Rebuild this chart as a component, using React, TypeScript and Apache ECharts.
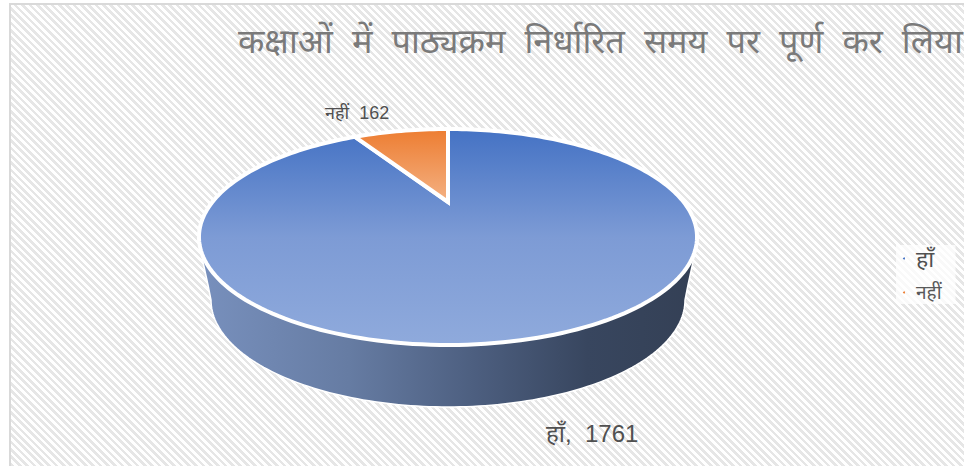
import React, { useEffect, useRef } from "react";
import * as echarts from "echarts";

const TITLE = "कक्षाओं  में  पाठ्यक्रम  निर्धारित  समय  पर  पूर्ण  कर  लिया";
const categories = ["हाँ", "नहीं"];
const values = [1761, 162];
const labelSeparators = [",  ", "  "];

const FONT = '"Liberation Sans", "Noto Sans", sans-serif';
const total = values.reduce((a, b) => a + b, 0);

// perspective projection of the unit disc onto the tilted pie top
const CX = 448;
const PX = 235.6;
const PC = -0.324;
const PA = 31.2;
const PB = 202;
const project = (x: number, y: number) => {
  const w = 1 + PC * y;
  return [CX + (PX * x) / w, (PA * y + PB) / w];
};
const rimPoint = (fraction: number) => {
  const t = fraction * Math.PI * 2;
  return project(Math.sin(t), -Math.cos(t));
};

const sliceStyles = [
  [
    { offset: 0, color: "#4472c4" },
    { offset: 0.5, color: "#7d9bd5" },
    { offset: 1, color: "#8faadc" },
  ],
  [
    { offset: 0, color: "#ed7d31" },
    { offset: 1, color: "#f4b183" },
  ],
];
const legendColors = ["#4472c4", "#ed7d31"];
const labelStyles = [
  { x: 546, y: 433, fontSize: 24 },
  { x: 325, y: 113, fontSize: 18 },
];

const wallPoints = () => {
  const pts: number[][] = [];
  pts.push([203, 262]);
  pts.push([208, 285]);
  for (let i = 0; i <= 120; i++) {
    const a = Math.PI - (i / 120) * Math.PI;
    pts.push([CX + 237 * Math.cos(a), 300 + 107 * Math.sin(a)]);
  }
  pts.push([688, 285]);
  pts.push([693, 262]);
  for (let i = 0; i <= 120; i++) {
    const a = (i / 120) * Math.PI;
    pts.push([CX + 249 * Math.cos(a), 237 + 108 * Math.sin(a)]);
  }
  return pts;
};

const makeRender = (index: number) => (_params: any, api: any) => {
  const value = api.value(0);
  const before = values.slice(0, index).reduce((a, b) => a + b, 0);
  const from = before / total;
  const to = (before + value) / total;
  const steps = Math.max(12, Math.round((to - from) * 240));
  const pts: number[][] = [project(0, 0)];
  for (let i = 0; i <= steps; i++) pts.push(rimPoint(from + ((to - from) * i) / steps));
  const children: any[] = [];
  if (index === 0) {
    children.push({
      type: "polygon",
      shape: { points: wallPoints() },
      style: {
        fill: new echarts.graphic.LinearGradient(0, 0, 1, 0, [
          { offset: 0, color: "#7890bd" },
          { offset: 0.3, color: "#667ca3" },
          { offset: 0.55, color: "#4d5f80" },
          { offset: 0.78, color: "#38465f" },
          { offset: 1, color: "#344055" },
        ]),
        stroke: "#ffffff",
        lineWidth: 1.5,
      },
    });
  }
  children.push({
    type: "polygon",
    shape: { points: pts },
    style: {
      fill: new echarts.graphic.LinearGradient(0, 0, 0, 1, sliceStyles[index]),
      stroke: "#ffffff",
      lineWidth: 4,
      lineJoin: "miter",
    },
  });
  const ls = labelStyles[index];
  children.push({
    type: "text",
    x: ls.x,
    y: ls.y,
    style: {
      text: `${categories[index]}${labelSeparators[index]}${value}`,
      fontFamily: FONT,
      fontSize: ls.fontSize,
      fill: "#505050",
      verticalAlign: "middle",
      align: "left",
    },
  });
  return { type: "group", children };
};

export default function App() {
  const ref = useRef<HTMLDivElement>(null);
  useEffect(() => {
    document.body.style.margin = "0";
    const chart = echarts.init(ref.current!, undefined, { renderer: "svg" });
    chart.setOption({
      animation: false,
      title: {
        text: TITLE,
        left: 238,
        top: 24,
        padding: 0,
        textStyle: { color: "#7a7a7a", fontSize: 34.3, fontWeight: 400, fontFamily: FONT },
      },
      legend: {
        orient: "vertical",
        left: 896,
        top: 245,
        padding: [2, 14, 2, 7],
        itemWidth: 2,
        itemHeight: 2,
        itemGap: 13,
        icon: "circle",
        selectedMode: false,
        backgroundColor: "rgba(255,255,255,0.75)",
        data: [
          { name: categories[0], textStyle: { fontSize: 23, color: "#505050", fontFamily: FONT, padding: [0, 0, 0, 6] } },
          { name: categories[1], textStyle: { fontSize: 19, color: "#595959", fontFamily: FONT, padding: [0, 0, 0, 6] } },
        ],
      },
      series: categories.map((name, i) => ({
        type: "custom",
        name,
        coordinateSystem: "none",
        silent: true,
        itemStyle: { color: legendColors[i] },
        data: [[values[i]]],
        renderItem: makeRender(i),
      })),
    });
    return () => chart.dispose();
  }, []);
  return (
    <div style={{ position: "fixed", left: 0, top: 0, width: 964, height: 466, background: "#fff", overflow: "hidden" }}>
      <div
        style={{
          position: "absolute",
          left: 9,
          top: 3,
          width: 955,
          height: 463,
          borderLeft: "2px solid #d9d9d9",
          borderTop: "2px solid #d9d9d9",
          boxSizing: "border-box",
          background: "repeating-linear-gradient(45deg, #e6e6e6 0px, #e6e6e6 2.6px, #ffffff 2.6px, #ffffff 5.2px)",
        }}
      />
      <div ref={ref} style={{ position: "absolute", left: 0, top: 0, width: 964, height: 466 }} />
    </div>
  );
}
